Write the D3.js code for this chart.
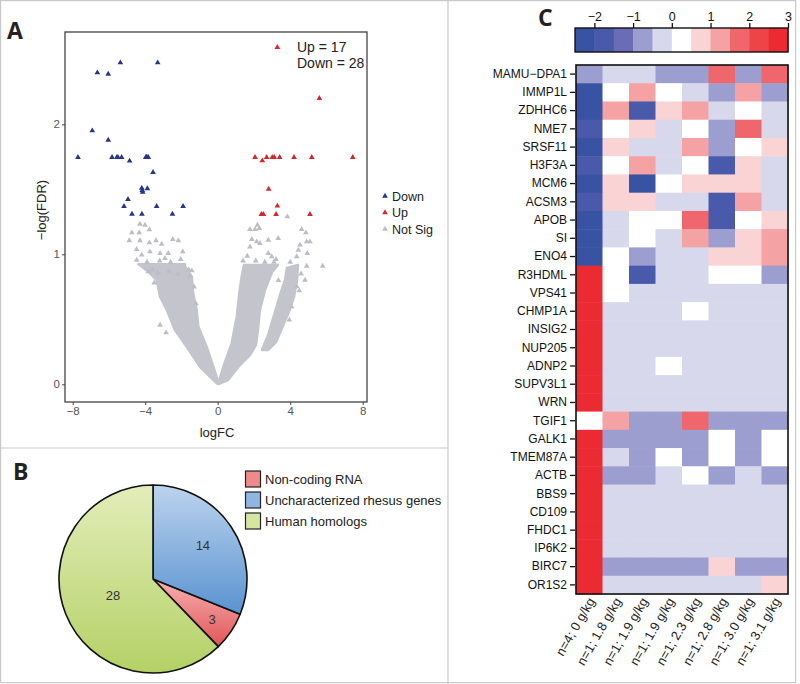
<!DOCTYPE html>
<html><head><meta charset="utf-8">
<script src="https://cdn.jsdelivr.net/npm/d3@7"></script>
<style>body{margin:0;background:#fff}svg{display:block}</style>
</head><body><svg id="c" width="800" height="684"></svg>
<script>
// ---------- Panel A data (logFC, -log(FDR)) ----------
const downPoints = [[-5.37,2.474],[-3.31,2.474],[-6.64,2.397],[-6.04,2.387],[-6.92,1.951],[-6.04,1.879],
 [-7.71,1.746],[-5.83,1.746],[-5.56,1.746],[-5.30,1.746],[-4.86,1.718],[-3.97,1.746],[-3.90,1.746],[-3.83,1.746],
 [-3.57,1.631],[-4.19,1.510],[-4.14,1.479],[-3.88,1.505],[-4.95,1.423],[-5.17,1.369],[-3.37,1.369],[-1.91,1.369],
 [-4.73,1.310],[-4.18,1.310],[-2.50,1.310],[-5.50,1.746],[-3.93,1.746],[-4.16,1.492]];
const upPoints = [[3.29,2.592],[5.61,2.200],[2.06,1.746],[2.46,1.720],[2.70,1.746],[3.01,1.746],[3.12,1.746],
 [3.42,1.746],[4.21,1.746],[5.19,1.746],[7.45,1.746],[2.81,1.502],[3.29,1.372],[2.41,1.308],[2.52,1.308],
 [3.22,1.308],[5.09,1.308]];
const notSigPoints = [[-4.29,1.233],[-4.01,1.225],[-3.77,1.19],[-4.74,1.166],[-4.33,1.166],[-4.88,1.105],[-4.29,1.105],
 [-3.77,1.089],[-3.40,1.105],[-3.09,1.079],[-2.48,1.115],[-2.17,1.105],[-4.47,1.038],[-3.74,1.02],[-3.18,1.008],
 [-2.73,1.008],[-1.93,1.02],[-4.19,0.995],[-4.47,0.956],[-2.91,0.969],[-2.04,0.962],[-1.43,0.874],[-1.53,0.833],
 [-3.18,0.456],[-2.85,0.397],[-3.83,0.866],[-3.6,0.88],[-3.3,0.86],[-2.7,0.87],[-2.2,0.85],[-1.6,0.88],[-3.5,0.78],
 [-1.3,0.75],[-1.2,0.62],[-3.9,0.94],[-2.6,0.94],[-3.2,0.95],
 [1.78,1.192],[2.06,1.192],[2.30,1.2],[2.19,1.225],[1.88,1.115],[2.15,1.097],[2.33,1.085],[2.79,1.11],[3.34,1.123],
 [3.84,1.289],[1.78,1.058],[1.63,0.987],[2.79,1.008],[2.98,0.982],[3.22,0.962],[4.63,1.192],[4.87,1.166],[4.54,1.072],
 [4.91,1.097],[5.09,1.097],[4.45,1.033],[4.94,1.008],[4.36,0.982],[4.91,0.91],[5.79,0.91],[4.82,0.802],[4.36,0.751],
 [4.08,0.597],[3.95,0.495],[1.4,0.95],[2.1,0.95],[2.6,0.94],[3.1,0.94],[4.0,0.94],[4.6,0.85],[4.5,0.72],[3.35,0.8]];
// dense non-significant clouds (outlines)
const cloudLeft = [[-0.05,0.008],[-0.98,0.135],[-1.71,0.289],[-2.36,0.418],[-2.81,0.572],[-3.18,0.674],[-3.37,0.802],
 [-3.83,0.866],[-4.29,0.918],[-4.38,0.923],[-1.80,0.923],[-1.80,0.905],[-1.43,0.828],[-1.35,0.70],[-1.16,0.572],
 [-1.07,0.443],[-0.61,0.289],[-0.24,0.135],[0.05,0.01]];
const cloudRight1 = [[0.03,0.002],[0.31,0.135],[0.77,0.315],[1.05,0.52],[1.19,0.70],[1.32,0.828],[1.45,0.918],
 [3.33,0.918],[3.00,0.864],[2.61,0.725],[2.33,0.572],[2.22,0.418],[2.11,0.302],[1.78,0.225],[1.23,0.148],[0.57,0.033]];
const cloudRight2 = [[2.44,0.264],[2.78,0.379],[3.11,0.533],[3.44,0.687],[3.71,0.802],[3.82,0.895],[4.43,0.918],
 [4.38,0.802],[4.21,0.672],[3.93,0.556],[3.55,0.433],[3.22,0.325],[2.78,0.264]];
const xTicksA = [-8,-4,0,4,8];
const yTicksA = [0,1,2];
const legendA = ["Down","Up","Not Sig"];

// ---------- Panel B data ----------
const pieCategories = ["Non-coding RNA","Uncharacterized rhesus genes","Human homologs"];
const pieValues = [3,14,28];
const pieOrder = [1,0,2]; // drawing order clockwise from 12 o'clock
const pieLabelRadius = [0.76,0.64,0.46];

// ---------- Panel C data ----------
const genes = ["MAMU−DPA1","IMMP1L","ZDHHC6","NME7","SRSF11","H3F3A","MCM6","ACSM3","APOB","SI","ENO4","R3HDML",
 "VPS41","CHMP1A","INSIG2","NUP205","ADNP2","SUPV3L1","WRN","TGIF1","GALK1","TMEM87A","ACTB","BBS9","CD109",
 "FHDC1","IP6K2","BIRC7","OR1S2"];
const conditions = ["n=4; 0 g/kg","n=1; 1.8 g/kg","n=1; 1.9 g/kg","n=1; 1.9 g/kg","n=1; 2.3 g/kg","n=1; 2.8 g/kg","n=1; 3.0 g/kg","n=1; 3.1 g/kg"];
const heatValues = [
 [-0.7,-0.2,-0.2,-0.7,-0.7,1.8,-0.7,1.8],
 [-2.2,0.2,1.2,0.2,-0.2,-0.7,1.2,-0.7],
 [-2.2,1.2,-1.8,0.7,1.2,-0.2,0.2,-0.2],
 [-1.6,0.2,0.7,-0.2,0.2,-0.7,1.8,-0.2],
 [-2.2,0.7,-0.2,-0.2,1.2,-0.7,0.2,0.7],
 [-1.6,0.2,1.2,-0.2,0.2,-1.8,0.7,-0.2],
 [-2.2,0.7,-2.2,0.2,0.7,0.7,0.7,-0.2],
 [-1.6,0.7,0.7,-0.2,-0.2,-1.8,1.2,-0.2],
 [-2.2,-0.2,0.2,0.2,1.8,-1.8,0.2,0.7],
 [-2.2,-0.2,0.2,-0.2,1.2,-0.7,0.7,1.2],
 [-2.2,0.2,-0.7,-0.2,-0.2,0.7,0.7,1.2],
 [2.7,0.2,-1.6,-0.2,-0.2,0.2,0.2,-0.7],
 [2.7,0.2,-0.2,-0.2,-0.2,-0.2,-0.2,-0.2],
 [2.7,-0.2,-0.2,-0.2,0.2,-0.2,-0.2,-0.2],
 [2.7,-0.2,-0.2,-0.2,-0.2,-0.2,-0.2,-0.2],
 [2.7,-0.2,-0.2,-0.2,-0.2,-0.2,-0.2,-0.2],
 [2.7,-0.2,-0.2,0.2,-0.2,-0.2,-0.2,-0.2],
 [2.7,-0.2,-0.2,-0.2,-0.2,-0.2,-0.2,-0.2],
 [2.7,-0.2,-0.2,-0.2,-0.2,-0.2,-0.2,-0.2],
 [0.2,1.2,-0.7,-0.7,1.8,-0.7,-0.7,-0.7],
 [2.7,-0.7,-0.7,-0.7,-0.7,0.2,-0.7,0.2],
 [2.7,-0.2,-0.7,0.2,-0.7,0.2,-0.7,0.2],
 [2.7,-0.7,-0.7,-0.2,0.2,-0.7,-0.2,-0.7],
 [2.7,-0.2,-0.2,-0.2,-0.2,-0.2,-0.2,-0.2],
 [2.7,-0.2,-0.2,-0.2,-0.2,-0.2,-0.2,-0.2],
 [2.7,-0.2,-0.2,-0.2,-0.2,-0.2,-0.2,-0.2],
 [2.7,-0.2,-0.2,-0.2,-0.2,-0.2,-0.2,-0.2],
 [2.7,-0.7,-0.7,-0.7,-0.7,0.7,-0.7,-0.7],
 [2.7,-0.2,-0.2,-0.2,-0.2,-0.2,-0.2,0.7]];
const legendBreaks = [-2.5,-2,-1.5,-1,-0.5,0,0.5,1,1.5,2,2.5,3];
const legendTicks = [-2,-1,0,1,2,3];
const binColors = ["#3953a4","#4a5aab","#6a6db5","#9d9ed0","#d8d8ec","#ffffff","#fad3d4","#f4a2a4","#ef676c","#ee4448","#eb2b31"];

const FONT = "'Liberation Sans', Arial, Helvetica, sans-serif";
const svg = d3.select("#c");
const fmt = d => d < 0 ? "\u2212" + Math.abs(d) : String(d);

// ---------- frame lines ----------
const frame = svg.append("g").attr("fill","none").attr("stroke","#c9c9c9").attr("stroke-width",1.2);
frame.append("rect").attr("x",0.6).attr("y",0.6).attr("width",795).attr("height",682);
frame.append("line").attr("x1",448).attr("x2",448).attr("y1",0).attr("y2",684);
frame.append("line").attr("x1",0).attr("x2",448).attr("y1",448).attr("y2",448);

// ---------- Panel A ----------
const xA = d3.scaleLinear().domain([-8,8]).range([72.7,362.7]);
const yA = d3.scaleLinear().domain([0,2]).range([384.3,124.3]);
const gA = svg.append("g");
const polyLine = d3.line().x(d=>xA(d[0])).y(d=>yA(d[1])).curve(d3.curveLinearClosed);
[cloudLeft,cloudRight1,cloudRight2].forEach(c =>
  gA.append("path").attr("d",polyLine(c)).attr("fill","#c4c4cc").attr("stroke","#c4c4cc").attr("stroke-width",2.5).attr("stroke-linejoin","round"));
const tri = d3.symbol().type(d3.symbolTriangle).size(14);
gA.selectAll(".ns").data(notSigPoints).join("path").attr("d",tri)
  .attr("transform",d=>`translate(${xA(d[0])},${yA(d[1])})`).attr("fill","#bdbdc6");
gA.selectAll(".dn").data(downPoints).join("path").attr("d",tri)
  .attr("transform",d=>`translate(${xA(d[0])},${yA(d[1])})`).attr("fill","#27348b");
gA.selectAll(".up").data(upPoints).join("path").attr("d",tri)
  .attr("transform",d=>`translate(${xA(d[0])},${yA(d[1])})`).attr("fill","#d7262b");
gA.append("rect").attr("x",65).attr("y",32).attr("width",302).attr("height",370)
  .attr("fill","none").attr("stroke","#444").attr("stroke-width",1.3);
const axB = gA.append("g").attr("transform","translate(0,402)")
  .call(d3.axisBottom(xA).tickValues(xTicksA).tickSize(3).tickPadding(2).tickFormat(fmt));
const axL = gA.append("g").attr("transform","translate(65,0)")
  .call(d3.axisLeft(yA).tickValues(yTicksA).tickSize(3).tickPadding(2).tickFormat(fmt));
[axB,axL].forEach(a=>{a.select(".domain").remove();
  a.selectAll("line").attr("stroke","#444");
  a.selectAll("text").attr("fill","#555").attr("font-size",11.5);});
gA.append("text").attr("x",217).attr("y",437).attr("text-anchor","middle").attr("font-size",13).attr("fill","#222").text("logFC");
gA.append("text").attr("transform","translate(46,210) rotate(-90)").attr("text-anchor","middle").attr("font-size",13).attr("fill","#222").text("\u2212log(FDR)");
gA.append("text").attr("x",297).attr("y",52).attr("font-size",14).attr("fill","#222").text("Up  = 17");
gA.append("text").attr("x",297).attr("y",68).attr("font-size",14).attr("fill","#222").text("Down = 28");
const legCols = ["#27348b","#d7262b","#bdbdc6"];
legendA.forEach((t,i)=>{
  const y = 196 + i*16.5;
  gA.append("path").attr("d",tri).attr("transform",`translate(385,${y})`).attr("fill",legCols[i]);
  gA.append("text").attr("x",392).attr("y",y+4.5).attr("font-size",12.5).attr("fill","#222").text(t);
});

// ---------- Panel B ----------
const gB = svg.append("g").attr("transform","translate(153,579)");
const defs = svg.append("defs");
const grads = [["gRed","#f8b0b0","#e05658"],["gBlue","#bcd3ee","#5a93d0"],["gGreen","#e3edba","#b4d166"]];
grads.forEach(([id,c1,c2])=>{
  const lg = defs.append("linearGradient").attr("id",id).attr("x1",0).attr("y1",0).attr("x2",0).attr("y2",1);
  lg.append("stop").attr("offset","0%").attr("stop-color",c1);
  lg.append("stop").attr("offset","100%").attr("stop-color",c2);
});
const R = 94;
const pieData = pieValues.map((v,i)=>({v,i}));
const pie = d3.pie().value(d=>d.v).sort((a,b)=>pieOrder.indexOf(a.i)-pieOrder.indexOf(b.i));
const arc = d3.arc().innerRadius(0).outerRadius(R);
const arcs = pie(pieData);
gB.selectAll("path").data(arcs).join("path").attr("d",arc)
  .attr("fill",d=>`url(#${grads[d.data.i][0]})`).attr("stroke","#111").attr("stroke-width",1.6).attr("stroke-linejoin","round");
arcs.forEach(a=>{
  const rr = R*pieLabelRadius[a.data.i];
  const la = d3.arc().innerRadius(rr).outerRadius(rr).centroid(a);
  gB.append("text").attr("x",la[0]).attr("y",la[1]+5).attr("text-anchor","middle")
    .attr("font-size",13).attr("fill","#333").text(a.data.v);
});
const legB = ["#ef8a8a","#8fb5e2","#d6e6a0"];
pieCategories.forEach((t,i)=>{
  const y = 471 + i*21;
  svg.append("rect").attr("x",245.5).attr("y",y).attr("width",15).attr("height",16)
    .attr("fill",legB[i]).attr("stroke","#222").attr("stroke-width",1.2);
  svg.append("text").attr("x",265).attr("y",y+13).attr("font-size",13).attr("fill","#222").text(t);
});

// ---------- Panel C ----------
const xC = d3.scaleBand().domain(d3.range(conditions.length)).range([576,788]);
const yC = d3.scaleBand().domain(genes).range([65,594]);
const color = d3.scaleThreshold().domain(legendBreaks.slice(1,-1)).range(binColors);
const gC = svg.append("g");
heatValues.forEach((row,r)=>{
  gC.selectAll(null).data(row).join("rect")
    .attr("x",(d,c)=>xC(c)).attr("y",yC(genes[r]))
    .attr("width",xC.bandwidth()+0.5).attr("height",yC.bandwidth()+0.5)
    .attr("fill",d=>color(d));
});
gC.append("rect").attr("x",576).attr("y",65).attr("width",212).attr("height",529)
  .attr("fill","none").attr("stroke","#111").attr("stroke-width",1.6);
const axC = gC.append("g").attr("transform","translate(575,0)").call(d3.axisLeft(yC).tickSize(5).tickPadding(3));
axC.select(".domain").remove();
axC.selectAll("line").attr("stroke","#111").attr("stroke-width",1.3);
axC.selectAll("text").attr("font-size",12).attr("fill","#111");
conditions.forEach((t,i)=>{
  const cx = xC(i)+xC.bandwidth()/2 + 6;
  gC.append("text").attr("transform",`translate(${cx},601) rotate(-60)`).attr("text-anchor","end")
    .attr("font-size",13).attr("fill","#222").text(t);
});
// colour key
const xL = d3.scaleLinear().domain([-2.5,3]).range([575,788]);
const bins = legendBreaks.slice(0,-1).map((b,i)=>[b,legendBreaks[i+1]]);
gC.selectAll(".key").data(bins).join("rect")
  .attr("x",d=>xL(d[0])).attr("y",28).attr("width",d=>xL(d[1])-xL(d[0])+0.5).attr("height",24)
  .attr("fill",d=>color((d[0]+d[1])/2));
gC.append("rect").attr("x",575).attr("y",28).attr("width",213).attr("height",24)
  .attr("fill","none").attr("stroke","#111").attr("stroke-width",1.4);
const axK = gC.append("g").attr("transform","translate(0,28)")
  .call(d3.axisTop(xL).tickValues(legendTicks).tickSize(5).tickPadding(2).tickFormat(fmt));
axK.select(".domain").remove();
axK.selectAll("line").attr("stroke","#111").attr("stroke-width",1.3);
axK.selectAll("text").attr("font-size",12.5).attr("fill","#111");

// apply font everywhere
svg.selectAll("g").attr("font-family", null);
svg.selectAll("text").style("font-family", FONT);

// panel letters
[["A",7,39],["B",13,480],["C",538,26]].forEach(([t,x,y]) =>
  svg.append("text").attr("x",x).attr("y",y).style("font-size","23px").style("font-weight","bold")
    .style("font-family","'Open Sans','DejaVu Sans',sans-serif").attr("fill","#222").text(t));
</script></body></html>
